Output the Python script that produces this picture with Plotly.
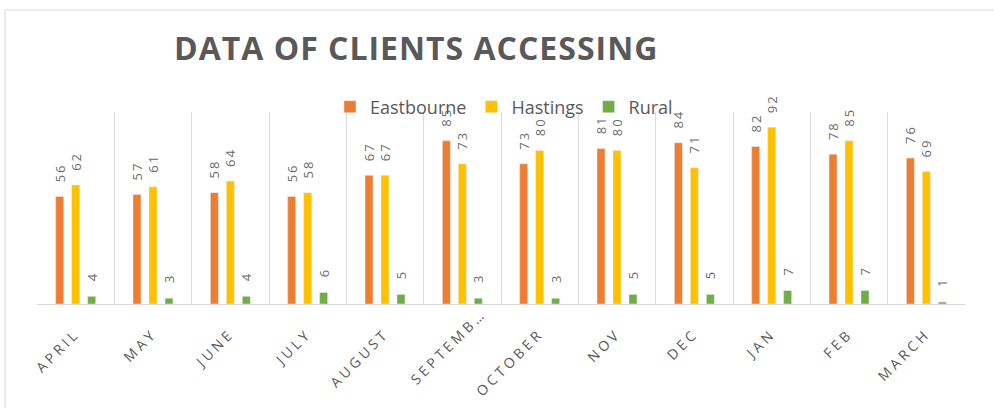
import plotly.graph_objects as go

months = ["APRIL", "MAY", "JUNE", "JULY", "AUGUST", "SEPTEMBER", "OCTOBER",
          "NOV", "DEC", "JAN", "FEB", "MARCH"]
tick_labels = ["APRIL", "MAY", "JUNE", "JULY", "AUGUST", "SEPTEMB\u2026", "OCTOBER",
               "NOV", "DEC", "JAN", "FEB", "MARCH"]
eastbourne = [56, 57, 58, 56, 67, 85, 73, 81, 84, 82, 78, 76]
hastings = [62, 61, 64, 58, 67, 73, 80, 80, 71, 92, 85, 69]
rural = [4, 3, 4, 6, 5, 3, 3, 5, 5, 7, 7, 1]

series = [("Eastbourne", eastbourne, "#ED7D31"),
          ("Hastings", hastings, "#FFC000"),
          ("Rural", rural, "#70AD47")]

label_color = "#6b6b6b"
pad = "\u00a0\u00a0\u00a0"

fig = go.Figure()
for name, vals, col in series:
    fig.add_trace(go.Bar(
        x=months, y=vals, name=name, marker_color=col,
        text=[pad + str(v) for v in vals],
        texttemplate="%{text}",
        textposition="outside", textangle=-90,
        constraintext="none", cliponaxis=False,
        textfont=dict(family="Open Sans", size=13, color=label_color),
    ))

W, H = 994, 408
L, R, T, B = 37, 29, 112, 104
pw, ph = W - L - R, H - T - B

def px(x):
    return (x - L) / pw

def py(y):
    return (H - B - y) / ph

fig.update_layout(
    width=W, height=H, autosize=False,
    margin=dict(l=L, r=R, t=T, b=B, pad=0),
    paper_bgcolor="white", plot_bgcolor="white",
    barmode="group", bargap=0.38, bargroupgap=0.5,
    font=dict(family="Open Sans", color="#595959"),
    title=dict(text="<b>DATA OF CLIENTS ACCESSING</b>",
               x=174 / W, xanchor="left", y=1 - 49 / H, yanchor="middle",
               font=dict(family="Open Sans", size=32, color="#595959")),
    legend=dict(orientation="h", x=px(330), xanchor="left", y=py(107), yanchor="middle",
                bgcolor="rgba(0,0,0,0)", font=dict(family="Open Sans", size=18, color="#595959"),
                itemclick=False),
    xaxis=dict(tickmode="array", tickvals=months, ticktext=tick_labels,
               tickangle=-45, tickson="boundaries", showgrid=True, gridcolor="#d9d9d9",
               gridwidth=1, showline=True, linecolor="#d9d9d9", linewidth=1,
               ticks="", ticklabelstandoff=15, automargin=False,
               tickfont=dict(family="Open Sans", size=14, color="#595959")),
    yaxis=dict(range=[0, 100], showgrid=False, showticklabels=False, zeroline=False,
               showline=False, ticks="", automargin=False),
    shapes=[dict(type="rect", xref="paper", yref="paper",
                 x0=px(5), x1=px(1010), y0=py(420), y1=py(10),
                 line=dict(color="#d9d9d9", width=1), fillcolor="rgba(0,0,0,0)", layer="below")],
)

post = """
document.body.style.margin='0';
document.querySelectorAll('.xtick text').forEach(function(t){
  t.style.letterSpacing='3.5px';
  if (t.textContent.indexOf('SEPTEMB') === 0) {
    t.setAttribute('transform', 'translate(20,-20) ' + (t.getAttribute('transform') || ''));
  }
});
document.querySelectorAll('.gtitle').forEach(function(t){t.style.letterSpacing='1px';});
document.querySelectorAll('text.bartext').forEach(function(t){t.style.letterSpacing='2px';});
"""

fig.write_html("out.html", post_script=post, config={"displayModeBar": False})
